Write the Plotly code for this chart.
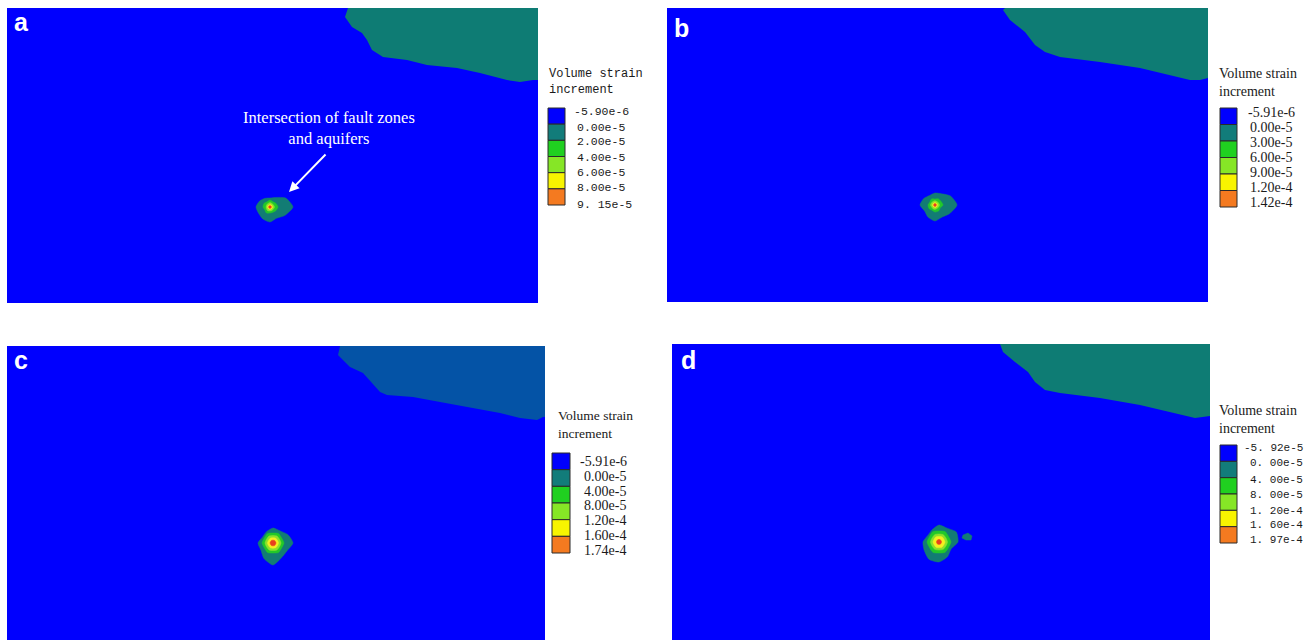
import math
import plotly.graph_objects as go

FIG_W, FIG_H = 1313, 640

# ---------------------------------------------------------------------------
# Model data (local model coordinates, x to the right, y downward)
# ---------------------------------------------------------------------------
panel_ids = ["a", "b", "c", "d"]

# Upper-right stratum boundary for every panel
stratum_x = {
    "a": [341, 338, 345, 355, 360, 365, 376, 400, 420, 450, 473, 500, 513, 526, 531],
    "b": [338, 336, 343, 358, 368, 378, 393, 433, 473, 503, 523, 533, 541],
    "c": [333, 331, 343, 356, 365, 373, 380, 406, 433, 460, 493, 513, 530, 536, 538],
    "d": [328, 331, 343, 356, 363, 373, 388, 428, 468, 498, 523, 538],
}
stratum_y = {
    "a": [0, 9, 19, 25, 32, 42, 49, 52, 57, 60, 65, 72, 74, 72, 72],
    "b": [0, 2, 12, 24, 37, 44, 49, 54, 60, 67, 72, 72, 70],
    "c": [0, 9, 21, 27, 37, 46, 49, 51, 56, 61, 67, 72, 74, 71, 71],
    "d": [0, 8, 18, 28, 38, 46, 49, 54, 61, 68, 74, 72],
}

# Strain concentration at the fault/aquifer intersection: centre and
# contour radii sampled every 30 degrees (0 = east, counter-clockwise)
blob_center = {"a": (263, 199), "b": (268, 197), "c": (266, 197), "d": (267, 198)}
blob_radii = {
    "a": [
        [23, 18, 11, 9, 10, 12, 14, 13, 14, 15, 13, 17],
        [8, 7, 6, 7, 6, 7, 7, 6, 7, 6, 6, 7],
        [4.5, 4, 4, 4.5, 4, 4, 4, 4, 4.5, 4, 4, 4],
        [2.6, 2.4, 2.5, 2.6, 2.4, 2.5, 2.6, 2.4, 2.5, 2.6, 2.4, 2.5],
        [1.4, 1.3, 1.4, 1.3, 1.4, 1.3, 1.4, 1.3, 1.4, 1.3, 1.4, 1.3],
    ],
    "b": [
        [22, 18, 13, 12, 11, 13, 15, 12, 14, 16, 14, 17],
        [8, 7, 7, 6, 7, 6, 7, 7, 6, 7, 7, 6],
        [4.5, 4.2, 4, 4.3, 4, 4.2, 4.5, 4, 4.2, 4.4, 4, 4.2],
        [2.6, 2.5, 2.4, 2.6, 2.5, 2.4, 2.6, 2.5, 2.4, 2.6, 2.5, 2.4],
        [1.4, 1.4, 1.3, 1.4, 1.4, 1.3, 1.4, 1.4, 1.3, 1.4, 1.4, 1.3],
    ],
    "c": [
        [20, 17, 14, 15, 13, 12, 15, 14, 18, 22, 17, 16],
        [11, 10, 11, 10, 11, 10, 11, 10, 11, 10, 11, 10],
        [8, 7.5, 8, 7.5, 8, 7.5, 8, 7.5, 8, 7.5, 8, 7.5],
        [5.5, 5.2, 5.5, 5.2, 5.5, 5.2, 5.5, 5.2, 5.5, 5.2, 5.5, 5.2],
        [3, 2.8, 3, 2.8, 3, 2.8, 3, 2.8, 3, 2.8, 3, 2.8],
    ],
    "d": [
        [19, 20, 16, 17, 14, 13, 16, 17, 20, 20, 17, 14],
        [12, 11, 12, 11, 12, 11, 12, 11, 12, 11, 12, 11],
        [8.5, 8, 8.5, 8, 8.5, 8, 8.5, 8, 8.5, 8, 8.5, 8],
        [6, 5.6, 6, 5.6, 6, 5.6, 6, 5.6, 6, 5.6, 6, 5.6],
        [2.6, 2.4, 2.6, 2.4, 2.6, 2.4, 2.6, 2.4, 2.6, 2.4, 2.6, 2.4],
    ],
}
# Detached patch east of the concentration in panel d
island_d_x = [291, 296, 300, 299, 294, 290]
island_d_y = [191, 189, 192, 196, 196, 194]

# Legend tick labels (contour boundaries)
legend_labels = {
    "a": ["-5.90e-6", "0.00e-5", "2.00e-5", "4.00e-5", "6.00e-5", "8.00e-5", "9. 15e-5"],
    "b": ["-5.91e-6", "0.00e-5", "3.00e-5", "6.00e-5", "9.00e-5", "1.20e-4", "1.42e-4"],
    "c": ["-5.91e-6", "0.00e-5", "4.00e-5", "8.00e-5", "1.20e-4", "1.60e-4", "1.74e-4"],
    "d": ["-5. 92e-5", "0. 00e-5", "4. 00e-5", "8. 00e-5", "1. 20e-4", "1. 60e-4", "1. 97e-4"],
}
legend_title = "Volume strain<br>increment"

# ---------------------------------------------------------------------------
# Styling / layout
# ---------------------------------------------------------------------------
BLUE = "#0000FE"
TEAL = "#0E7C74"
UPPER_C = "#0453A6"
level_colors = ["#0000FE", "#127C7A", "#20D020", "#86E626", "#F8F400", "#F47A20"]
blob_colors = ["#127C74", "#22C82A", "#8CE22C", "#F4F020", "#E8401E"]
stratum_color = {"a": TEAL, "b": TEAL, "c": UPPER_C, "d": TEAL}

# panel frames on the page: left, right, top, bottom (px)
frame = {
    "a": (7, 538, 8, 303),
    "b": (667, 1208, 8, 302),
    "c": (7, 545, 346, 640),
    "d": (672, 1210, 344, 640),
}
letter_pos = {"a": (21, 22), "b": (681, 28), "c": (21, 360), "d": (688, 360)}

SERIF = "Liberation Serif"
MONO = "Liberation Mono"
legend_style = {
    "a": dict(title_xy=(547, 82), title_font=(MONO, 12),
              box=(548, 565, 108, 205),
              label_x=[573, 576, 576, 576, 576, 576, 576],
              label_y=[111, 127, 141, 158, 173, 188, 204],
              label_font=(MONO, 11.5)),
    "b": dict(title_xy=(1217, 83), title_font=(SERIF, 14),
              box=(1220, 1237, 108, 207),
              label_x=[1247, 1249, 1249, 1249, 1249, 1249, 1249],
              label_y=[113, 128, 143, 158, 173, 188, 203],
              label_font=(SERIF, 14)),
    "c": dict(title_xy=(556, 424), title_font=(SERIF, 13.5),
              box=(552, 570, 453, 553),
              label_x=[579, 583, 583, 583, 583, 583, 583],
              label_y=[461, 476, 491, 505, 520, 535, 550],
              label_font=(SERIF, 14)),
    "d": dict(title_xy=(1217, 419), title_font=(SERIF, 14),
              box=(1220, 1237, 445, 543),
              label_x=[1243, 1249, 1249, 1249, 1249, 1249, 1249],
              label_y=[448, 463, 480, 495, 511, 525, 540],
              label_font=(MONO, 11)),
}


def px(x):
    return x / FIG_W


def py(y):
    return 1 - y / FIG_H


def ring(center, radii):
    cx, cy = center
    n = len(radii)
    xs, ys = [], []
    for k, r in enumerate(radii):
        ang = 2 * math.pi * k / n
        xs.append(cx + r * math.cos(ang))
        ys.append(cy - r * math.sin(ang))
    return xs + xs[:1], ys + ys[:1]


fig = go.Figure()
layout = dict(
    width=FIG_W, height=FIG_H,
    margin=dict(l=0, r=0, t=0, b=0),
    paper_bgcolor="white", plot_bgcolor=BLUE,
    showlegend=False,
)
shapes, annotations = [], []

for i, pid in enumerate(panel_ids, start=1):
    x0, x1, y0, y1 = frame[pid]
    w, h = x1 - x0, y1 - y0
    xa = "xaxis" if i == 1 else f"xaxis{i}"
    ya = "yaxis" if i == 1 else f"yaxis{i}"
    xr = "x" if i == 1 else f"x{i}"
    yr = "y" if i == 1 else f"y{i}"
    layout[xa] = dict(domain=[px(x0), px(x1)], range=[0, w], visible=False,
                      fixedrange=True, anchor=yr)
    layout[ya] = dict(domain=[py(y1), py(y0)], range=[h, 0], visible=False,
                      fixedrange=True, anchor=xr)

    # upper-right stratum
    sx = stratum_x[pid] + [w]
    sy = stratum_y[pid] + [0]
    fig.add_trace(go.Scatter(x=sx, y=sy, xaxis=xr, yaxis=yr, mode="lines",
                             fill="toself", fillcolor=stratum_color[pid],
                             line=dict(width=0, color=stratum_color[pid]),
                             hoverinfo="skip"))

    # strain concentration contours
    for lvl, radii in enumerate(blob_radii[pid]):
        rx, ry = ring(blob_center[pid], radii)
        fig.add_trace(go.Scatter(x=rx, y=ry, xaxis=xr, yaxis=yr, mode="lines",
                                 fill="toself", fillcolor=blob_colors[lvl],
                                 line=dict(width=0.5, color=blob_colors[lvl],
                                           shape="spline", smoothing=0.6),
                                 hoverinfo="skip"))
    if pid == "d":
        fig.add_trace(go.Scatter(x=island_d_x + island_d_x[:1],
                                 y=island_d_y + island_d_y[:1],
                                 xaxis=xr, yaxis=yr, mode="lines", fill="toself",
                                 fillcolor=blob_colors[0],
                                 line=dict(width=0.5, color=blob_colors[0]),
                                 hoverinfo="skip"))

    # panel letter
    lx, ly = letter_pos[pid]
    annotations.append(dict(x=px(lx), y=py(ly), xref="paper", yref="paper",
                            text=f"<b>{pid}</b>", showarrow=False,
                            xanchor="center", yanchor="middle",
                            font=dict(family="Liberation Sans", size=25,
                                      color="white")))

    # contour legend
    st = legend_style[pid]
    tx, tyc = st["title_xy"]
    annotations.append(dict(x=px(tx), y=py(tyc), xref="paper", yref="paper",
                            text=legend_title, showarrow=False, align="left",
                            xanchor="left", yanchor="middle",
                            font=dict(family=st["title_font"][0],
                                      size=st["title_font"][1], color="#1a1a1a")))
    bx0, bx1, by0, by1 = st["box"]
    nb = len(level_colors)
    step = (by1 - by0) / nb
    for k, col in enumerate(level_colors):
        shapes.append(dict(type="rect", xref="paper", yref="paper",
                           x0=px(bx0), x1=px(bx1),
                           y0=py(by0 + step * (k + 1)), y1=py(by0 + step * k),
                           fillcolor=col, line=dict(color="#2a2a2a", width=1)))
    for k, lab in enumerate(legend_labels[pid]):
        annotations.append(dict(x=px(st["label_x"][k]), y=py(st["label_y"][k]),
                                xref="paper", yref="paper", text=lab,
                                showarrow=False, xanchor="left",
                                yanchor="middle", borderpad=0,
                                font=dict(family=st["label_font"][0],
                                          size=st["label_font"][1],
                                          color="#1a1a1a")))

# callout in panel a
annotations.append(dict(x=322, y=120, xref="x", yref="y",
                        text="Intersection of fault zones<br>and aquifers",
                        showarrow=False, xanchor="center", yanchor="middle",
                        font=dict(family=SERIF, size=16.5, color="white")))
annotations.append(dict(x=282, y=184, xref="x", yref="y", ax=320, ay=145,
                        axref="x", ayref="y", text="", showarrow=True,
                        arrowhead=2, arrowsize=1, arrowwidth=2,
                        arrowcolor="white"))

layout["shapes"] = shapes
layout["annotations"] = annotations
fig.update_layout(**layout)
fig.write_html("out.html")
